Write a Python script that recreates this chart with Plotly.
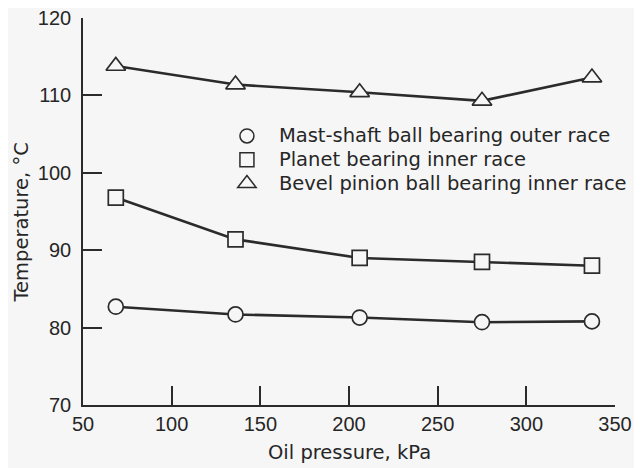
import plotly.graph_objects as go

pressure = [68.5, 136, 206, 275, 337]
mast_shaft = [82.7, 81.7, 81.3, 80.7, 80.8]
planet = [96.8, 91.4, 89.0, 88.5, 88.0]
bevel = [113.8, 111.4, 110.4, 109.3, 112.3]

names = ["Mast-shaft ball bearing outer race",
         "Planet bearing inner race",
         "Bevel pinion ball bearing inner race"]
symbols = ["circle", "square", "triangle-up"]
sizes = [15, 15, 17]
series = [mast_shaft, planet, bevel]
x_ticks = [50, 100, 150, 200, 250, 300, 350]
y_ticks = [70, 80, 90, 100, 110, 120]

bg = "#f6f6f6"
ink = "#2b2b2b"
txt = "#262626"
text_font = "DejaVu Sans"
tick_font = "Liberation Sans, Arial"

fig = go.Figure()
for name, sym, sz, ys in zip(names, symbols, sizes, series):
    fig.add_trace(go.Scatter(
        x=pressure, y=ys, mode="lines", showlegend=False,
        line=dict(color=ink, width=2.6)))
    fig.add_trace(go.Scatter(
        x=pressure, y=ys, mode="markers", showlegend=False,
        marker=dict(symbol=sym, size=sz, color=bg,
                    line=dict(color=ink, width=1.7))))
for name, sym, sz in zip(names, symbols, sizes):
    fig.add_trace(go.Scatter(
        x=[None], y=[None], mode="markers",
        name='<span style="font-size:19.5px">' + name + "</span>",
        marker=dict(symbol=sym, size=sz - 1, color=bg,
                    line=dict(color=ink, width=1.5))))

axis_common = dict(showgrid=False, zeroline=False, showline=True,
                   linecolor=ink, linewidth=1.6, ticks="inside", ticklen=19,
                   tickwidth=1.6, tickcolor=ink, automargin=False,
                   ticklabeloverflow="allow",
                   tickfont=dict(family=tick_font, size=20, color=txt))

fig.update_layout(
    width=634, height=460,
    margin=dict(l=75, r=23, t=10, b=63),
    paper_bgcolor=bg, plot_bgcolor=bg,
    font=dict(family=text_font, color=txt),
    xaxis=dict(range=[50, 350], tickvals=x_ticks, **axis_common),
    yaxis=dict(range=[70, 120.0001], tickvals=y_ticks, ticklabelstandoff=6,
               **axis_common),
    legend=dict(x=0.248, y=0.739, xanchor="left", yanchor="top",
                bgcolor="rgba(0,0,0,0)", font=dict(size=16, color=txt,
                                                   family=text_font),
                tracegroupgap=0, itemwidth=54),
    annotations=[
        dict(text="Oil pressure, kPa", xref="paper", yref="paper",
             x=0.5, y=0, xanchor="center", yanchor="middle", yshift=-47,
             showarrow=False, font=dict(size=19.5, family=text_font, color=txt)),
        dict(text="Temperature, °C", xref="paper", yref="paper",
             x=0, y=0.4716, xanchor="center", yanchor="middle", xshift=-62,
             textangle=-90, showarrow=False,
             font=dict(size=19.5, family=text_font, color=txt)),
    ],
)

fig.write_html("out.html")
